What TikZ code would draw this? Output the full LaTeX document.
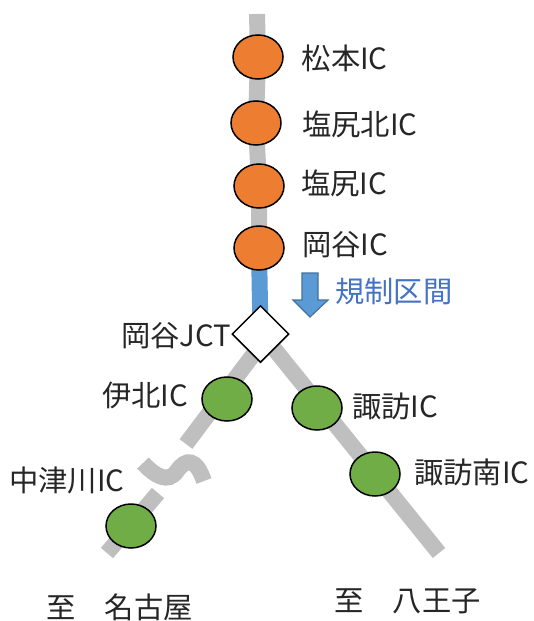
\documentclass[tikz,border=0pt]{standalone}
\usepackage{fontspec}
\setmainfont{Noto Sans CJK JP}[Scale=1]
\usetikzlibrary{shapes.geometric,backgrounds}
\definecolor{road}{HTML}{BFBFBF}
\definecolor{blueroad}{HTML}{5B9BD5}
\definecolor{bluedge}{HTML}{41719C}
\definecolor{orangeic}{HTML}{ED7D31}
\definecolor{greenic}{HTML}{70AD47}
\definecolor{labelc}{HTML}{262626}
\definecolor{labelblue}{HTML}{4472C4}
\tikzset{
  x=1pt,y=-1pt,
  ic/.style={draw=black,line width=1.5pt,ellipse,minimum width=50pt,minimum height=44pt,inner sep=0pt},
  oic/.style={ic,fill=orangeic},
  gic/.style={ic,fill=greenic},
  lbl/.style={anchor=west,inner sep=0pt,text=labelc,font=\fontsize{29.3}{32}\selectfont},
  roadline/.style={draw=road,line width=16pt},
  blueline/.style={draw=blueroad,line width=16pt},
}
\begin{document}
\begin{tikzpicture}
\useasboundingbox (0,0) rectangle (533,621);
\coordinate (top) at (257,14);
\coordinate (ljoin) at (268,335);
\coordinate (rjoin) at (263,335);
\coordinate (gapa) at (186,444);
\coordinate (gapb) at (158,493);
\coordinate (lend) at (107,553);
\coordinate (rend) at (439,553);
\coordinate (sa) at (143,463);
\coordinate (sb) at (204,481);
\node[oic] (matsumoto) at (258,57) {};
\node[oic] (shiokita) at (256,123) {};
\node[oic] (shiojiri) at (259,186) {};
\node[oic] (okaya) at (259,248) {};
\node[draw=black,line width=1.5pt,fill=white,diamond,aspect=1,minimum width=57pt,minimum height=57pt,inner sep=0pt] (jct) at (260.5,334) {};
\node[gic] (ikita) at (227,399) {};
\node[gic] (suwa) at (317,408) {};
\node[gic] (suwaminami) at (375,474) {};
\node[gic] (nakatsu) at (131,526) {};
\begin{pgfonlayer}{background}
\draw[roadline] (top) -- (matsumoto.center) -- (shiokita.center) -- (shiojiri.center) -- (okaya.center);
\draw[blueline] (okaya.center) -- (jct.center);
\draw[roadline] (ljoin) -- (gapa);
\draw[roadline] (gapb) -- (lend);
\draw[roadline] (rjoin) -- (rend);
\draw[roadline] (sa) .. controls (155,476) and (168,484) .. (177,471) .. controls (186,458) and (196,458) .. (sb);
\end{pgfonlayer}
\draw[fill=blueroad,draw=bluedge,line width=1.2pt] (302,273) -- (318,273) -- (318,300) -- (328,300) -- (310,317) -- (293,300) -- (302,300) -- cycle;
\node[lbl] (t1) at (301.5,58) {松本IC};
\node[lbl] (t2) at (302,124) {塩尻北IC};
\node[lbl] (t3) at (301,183) {塩尻IC};
\node[lbl] (t4) at (302,245) {岡谷IC};
\node[lbl,text=labelblue] (t5) at (335,291) {規制区間};
\node[lbl] (t6) at (121,336) {岡谷JCT};
\node[lbl] (t7) at (102,395) {伊北IC};
\node[lbl] (t8) at (9,480) {中津川IC};
\node[lbl] (t9) at (352,406) {諏訪IC};
\node[lbl] (t10) at (414,472) {諏訪南IC};
\node[lbl] (t11) at (46,607) {至　名古屋};
\node[lbl] (t12) at (334,601) {至　八王子};
\end{tikzpicture}
\end{document}
